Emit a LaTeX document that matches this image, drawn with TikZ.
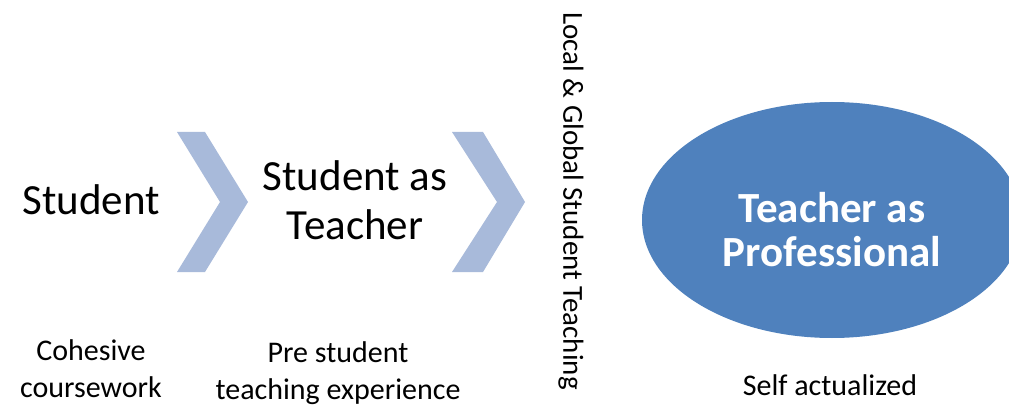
\documentclass[tikz,border=0pt]{standalone}
\usepackage{fontspec}
\setmainfont{Carlito}
\usepackage{xcolor}
\usetikzlibrary{shapes.geometric}

\definecolor{chevblue}{RGB}{168,186,218}
\definecolor{ovalblue}{RGB}{79,129,189}

\begin{document}
\begin{tikzpicture}[x=1pt,y=-1pt,
  stage/.style={font=\fontsize{43}{49}\selectfont,align=center,inner sep=0pt},
  note/.style={font=\fontsize{30}{37}\selectfont,align=center,inner sep=0pt}]
\useasboundingbox (0,0) rectangle (1009,406);
\clip (0,0) rectangle (1009,406);
% chevrons
\fill[chevblue] (177,132) -- (205,132) -- (248,202) -- (205,272) -- (177,272) -- (220,202) -- cycle;
\fill[chevblue] (452,132) -- (483,132) -- (525,202) -- (483,272) -- (452,272) -- (497,202) -- cycle;
% oval
\node[ellipse,fill=ovalblue,inner sep=0pt,minimum width=380pt,minimum height=236pt] (oval) at (832,220) {};
% stages
\node[stage] (student) at (91,200) {Student};
\node[stage] (studteach) at (355,200) {Student as\\Teacher};
\node[stage,text=white,font=\fontsize{43}{44}\selectfont\bfseries] (profteach) at (832,230) {Teacher as\\Professional};
\node[font=\fontsize{29}{35}\selectfont,inner sep=0pt,rotate=-90] (global) at (571,201) {Local \& Global Student Teaching};
% notes
\node[note] (cohesive) at (91,369) {Cohesive\\coursework};
\node[note] (prestudent) at (338,373) {Pre student\\teaching experience};
\node[note] (selfact) at (830,385) {Self actualized};
\end{tikzpicture}
\end{document}
